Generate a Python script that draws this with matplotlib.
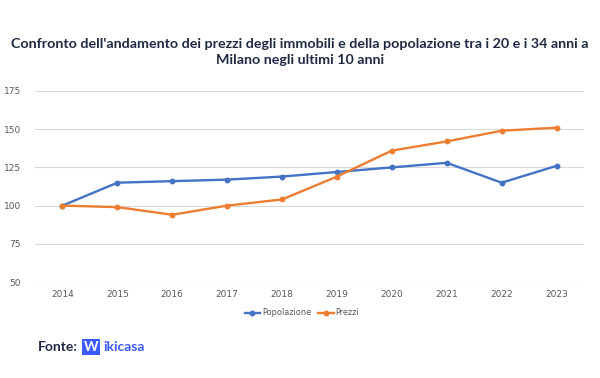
import matplotlib.pyplot as plt

# dati
anni = ['2014', '2015', '2016', '2017', '2018', '2019', '2020', '2021', '2022', '2023']
popolazione = [100, 115, 116, 117, 119, 122, 125, 128, 115, 126]
prezzi = [100, 99, 94, 100, 104, 119, 136, 142, 149, 151]
y_ticks = [50, 75, 100, 125, 150, 175]

titolo = "Confronto dell'andamento dei prezzi degli immobili e della popolazione tra i 20 e i 34 anni a\nMilano negli ultimi 10 anni"

fig = plt.figure(figsize=(6, 3.78), dpi=100)
ax = fig.add_axes([35/600, 1 - 282/378, (584-35)/600, (282-91)/378])

x = range(len(anni))
ax.plot(x, popolazione, color='#4472C4', lw=1.7, marker='o', ms=3.2, label='Popolazione')
ax.plot(x, prezzi, color='#ED7D31', lw=1.7, marker='o', ms=3.2, label='Prezzi')

ax.set_xlim(-0.5, len(anni) - 0.5)
ax.set_ylim(50, 175)
ax.set_yticks(y_ticks)
ax.set_xticks(list(x))
ax.set_xticklabels(anni)
ax.grid(axis='y', color='#d9d9d9', lw=0.8)
ax.set_axisbelow(True)
for s in ax.spines.values():
    s.set_visible(False)
ax.tick_params(length=0, labelsize=6.5, labelcolor='#595959')
ax.tick_params(axis='y', pad=10)
ax.tick_params(axis='x', pad=6)

ax.legend(loc='upper center', bbox_to_anchor=(0.486, -0.1), ncol=2, frameon=False,
          fontsize=5.9, labelcolor='#595959', handlelength=1.9, columnspacing=0.9,
          handletextpad=0.2)

fig.text(0.5, 1 - 52/378, titolo, ha='center', va='center', fontsize=10.3,
         fontweight='bold', color='#1f2a44', linespacing=1.45, family='Lato')

# fonte con logo
r = fig.canvas.get_renderer()
t1 = fig.text(38/600, 1 - 347/378, 'Fonte:', ha='left', va='center', fontsize=10,
              fontweight='bold', color='#1f2a44', family='Lato')
x1 = t1.get_window_extent(r).x1 / 600 + 6/600
t2 = fig.text(x1, 1 - 347/378, 'W', ha='left', va='center', fontsize=10,
              fontweight='bold', color='white', family='Lato',
              bbox=dict(boxstyle='square,pad=0.12', fc='#3D5AFE', ec='none'))
x2 = t2.get_window_extent(r).x1 / 600 + 5/600
fig.text(x2, 1 - 347/378, 'ikicasa', ha='left', va='center', fontsize=10,
         fontweight='bold', color='#3D5AFE', family='Lato')

fig.savefig('out.png', dpi=100, facecolor='white')
